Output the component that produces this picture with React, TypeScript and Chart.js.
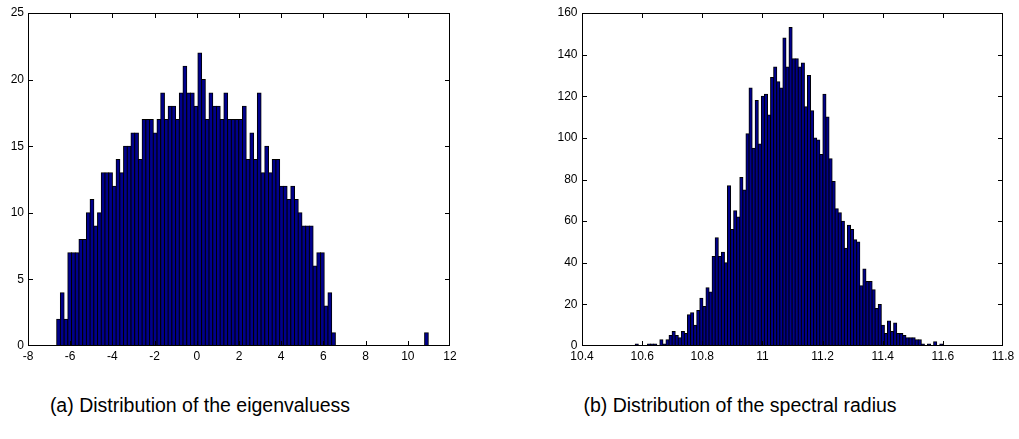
import React, { useEffect, useRef } from "react";
import { Chart, registerables } from "chart.js";

Chart.register(...registerables);

// ---------- Data ----------
// (a) Histogram of eigenvalues: 100 equal bins
const eigBinStart = -6.641;
const eigBinWidth = 0.17613;
const eigCounts = [
  2, 4, 2, 7, 7, 7, 8, 8, 10, 11,
  9, 10, 13, 13, 13, 12, 14, 13, 15, 15,
  16, 16, 14, 17, 17, 17, 16, 17, 19, 17,
  18, 18, 17, 19, 21, 19, 19, 18, 22, 20,
  17, 19, 18, 18, 17, 19, 17, 17, 17, 17,
  18, 14, 16, 14, 19, 13, 15, 13, 14, 14,
  12, 12, 11, 12, 11, 10, 9, 9, 9, 6,
  7, 7, 3, 4, 1, 0, 0, 0, 0, 0,
  0, 0, 0, 0, 0, 0, 0, 0, 0, 0,
  0, 0, 0, 0, 0, 0, 0, 0, 0, 1,
];
const eigXTicks = [-8, -6, -4, -2, 0, 2, 4, 6, 8, 10, 12];
const eigYTicks = [0, 5, 10, 15, 20, 25];

// (b) Histogram of spectral radius: 100 equal bins
const radBinStart = 10.577;
const radBinWidth = 0.01023;
const radCounts = [
  1, 0, 0, 0, 1, 1, 1, 0, 3, 1,
  3, 5, 7, 5, 4, 7, 6, 15, 16, 10,
  17, 23, 19, 28, 26, 43, 52, 43, 45, 40,
  77, 56, 65, 62, 81, 75, 102, 124, 95, 118,
  97, 120, 121, 111, 129, 134, 127, 124, 148, 134,
  153, 138, 138, 134, 136, 115, 130, 113, 100, 99,
  92, 121, 110, 90, 79, 66, 64, 60, 47, 58,
  56, 51, 50, 29, 37, 31, 31, 27, 18, 20,
  10, 6, 12, 7, 11, 6, 6, 5, 4, 4,
  4, 3, 3, 1, 0, 1, 0, 2, 0, 1,
];
const radXTicks = [10.4, 10.6, 10.8, 11, 11.2, 11.4, 11.6, 11.8];
const radYTicks = [0, 20, 40, 60, 80, 100, 120, 140, 160];

const captionA = "(a) Distribution of the eigenvaluess";
const captionB = "(b) Distribution of the spectral radius";

// ---------- Styling ----------
const BAR_FILL = "rgb(0,0,140)";
const FONT = { family: "'Liberation Sans', Arial, Helvetica, sans-serif", size: 12 };

function seg(ctx: CanvasRenderingContext2D, x1: number, y1: number, x2: number, y2: number) {
  ctx.beginPath();
  ctx.moveTo(x1, y1);
  ctx.lineTo(x2, y2);
  ctx.stroke();
}

const boxTicksPlugin = {
  id: "boxTicks",
  afterDraw(chart: any) {
    const { ctx, chartArea: a, scales } = chart;
    const x = scales.x;
    const y = scales.y;
    const L = 4.5;
    ctx.save();
    ctx.lineWidth = 1;
    ctx.strokeStyle = "#000";
    const l = Math.round(a.left) + 0.5;
    const r = Math.round(a.right) - 0.5;
    const t = Math.round(a.top) + 0.5;
    const b = Math.round(a.bottom) - 0.5;
    ctx.strokeRect(l, t, r - l, b - t);
    const clampX = (v: number) => Math.min(Math.max(v, l), r);
    const clampY = (v: number) => Math.min(Math.max(v, t), b);
    for (let i = 0; i < x.ticks.length; i++) {
      const px = clampX(Math.round(x.getPixelForValue(x.ticks[i].value)) + 0.5);
      seg(ctx, px, b, px, b - L);
      seg(ctx, px, t, px, t + L);
    }
    for (let i = 0; i < y.ticks.length; i++) {
      const py = clampY(Math.round(y.getPixelForValue(y.ticks[i].value)) + 0.5);
      seg(ctx, l, py, l + L, py);
      seg(ctx, r, py, r - L, py);
    }
    ctx.restore();
  },
};

function makeConfig(
  counts: number[],
  start: number,
  width: number,
  xTicks: number[],
  yTicks: number[],
  yAxisWidth: number,
  xAxisHeight: number,
  padRight: number,
  yPad: number
): any {
  const data = counts.map((c, i) => ({ x: start + (i + 0.5) * width, y: c }));
  const fmt = (v: number) => String(+Number(v).toFixed(2));
  return {
    type: "bar",
    data: {
      datasets: [
        {
          data,
          backgroundColor: BAR_FILL,
          borderColor: "#000",
          borderWidth: 1,
          borderSkipped: false,
          inflateAmount: 0.5,
          barPercentage: 1,
          categoryPercentage: 1,
        },
      ],
    },
    options: {
      animation: false,
      responsive: false,
      devicePixelRatio: 1,
      events: [],
      layout: { padding: { left: 0, top: 13, right: padRight, bottom: 0 } },
      plugins: {
        legend: { display: false },
        title: { display: false },
        tooltip: { enabled: false },
      },
      scales: {
        x: {
          type: "linear",
          min: xTicks[0],
          max: xTicks[xTicks.length - 1],
          offset: false,
          grid: { display: false, drawTicks: false, offset: false },
          border: { display: false },
          afterBuildTicks: (s: any) => {
            s.ticks = xTicks.map((v) => ({ value: v }));
          },
          afterFit: (s: any) => {
            s.height = xAxisHeight;
            s.paddingLeft = 0;
            s.paddingRight = 0;
          },
          ticks: {
            padding: 3,
            maxRotation: 0,
            autoSkip: false,
            color: "#000",
            font: FONT,
            callback: (v: any) => fmt(v),
          },
        },
        y: {
          type: "linear",
          min: yTicks[0],
          max: yTicks[yTicks.length - 1],
          grid: { display: false, drawTicks: false },
          border: { display: false },
          afterBuildTicks: (s: any) => {
            s.ticks = yTicks.map((v) => ({ value: v }));
          },
          afterFit: (s: any) => {
            s.width = yAxisWidth;
            s.paddingTop = 0;
            s.paddingBottom = 0;
          },
          ticks: {
            padding: yPad,
            autoSkip: false,
            color: "#000",
            font: FONT,
            callback: (v: any) => fmt(v),
          },
        },
      },
    },
    plugins: [boxTicksPlugin],
  };
}

function HistChart(props: {
  left: number;
  width: number;
  height: number;
  config: any;
}) {
  const ref = useRef<HTMLCanvasElement | null>(null);
  useEffect(() => {
    if (!ref.current) return;
    const chart = new Chart(ref.current, props.config);
    return () => chart.destroy();
  }, []);
  return (
    <canvas
      ref={ref}
      width={props.width}
      height={props.height}
      style={{
        position: "absolute",
        left: props.left,
        top: 0,
        width: props.width,
        height: props.height,
      }}
    />
  );
}

export default function App() {
  const cfgA = makeConfig(eigCounts, eigBinStart, eigBinWidth, eigXTicks, eigYTicks, 28, 34, 20, 4);
  const cfgB = makeConfig(radCounts, radBinStart, radBinWidth, radXTicks, radYTicks, 52, 34, 16, 4.5);
  const captionStyle: React.CSSProperties = {
    position: "absolute",
    top: 394,
    width: 400,
    textAlign: "center",
    fontFamily: "'Liberation Sans', Arial, Helvetica, sans-serif",
    fontSize: 19.5,
    lineHeight: "22px",
    color: "#000",
    whiteSpace: "nowrap",
  };
  return (
    <div
      style={{
        position: "absolute",
        left: 0,
        top: 0,
        width: 1019,
        height: 439,
        background: "#fff",
        overflow: "hidden",
      }}
    >
      <HistChart left={0} width={470} height={380} config={cfgA} />
      <HistChart left={530} width={489} height={380} config={cfgB} />
      <div style={{ ...captionStyle, left: 0 }}>{captionA}</div>
      <div style={{ ...captionStyle, left: 540 }}>{captionB}</div>
    </div>
  );
}
